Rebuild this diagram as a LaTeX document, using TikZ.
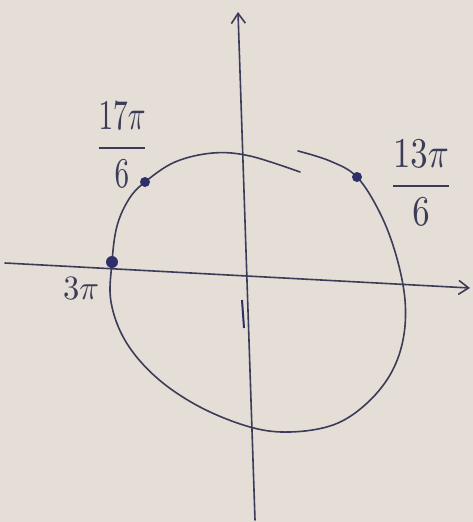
\documentclass[tikz,border=0pt]{standalone}
\usepackage{amsmath}
\usepackage{graphicx}
\usetikzlibrary{arrows.meta}
\definecolor{paper}{HTML}{E4DED6}
\definecolor{pen}{HTML}{3C3C58}
\definecolor{ink}{HTML}{2E2E6A}
\newcommand{\bigtext}[3]{\resizebox{#1}{#2}{#3}}
\tikzset{
  pencurve/.style={draw=pen, line width=1.6pt, line cap=round, line join=round},
  axisline/.style={draw=pen, line width=1.6pt, line cap=round, -{Straight Barb[length=10pt,width=14pt]}},
  dotmark/.style={circle, fill=ink, inner sep=0pt, minimum size=10pt},
  lbl/.style={text=pen, inner sep=0pt}
}
\begin{document}
\begin{tikzpicture}[x=1pt,y=-1pt]
  \fill[paper] (0,0) rectangle (473,522);
  \useasboundingbox (0,0) rectangle (473,522);
  % axes
  \coordinate (xs) at (5,263);
  \coordinate (xe) at (470,288);
  \coordinate (ys) at (255,520);
  \coordinate (ye) at (238,12);
  \draw[axisline] (xs) -- (xe);
  \draw[axisline] (ys) -- (ye);
  % small tick on the vertical axis
  \coordinate (ta) at (242,300);
  \coordinate (tb) at (244,328);
  \draw[draw=ink, line width=2pt] (ta) -- (tb);
  % hand-drawn circle
  \draw[pencurve] plot[smooth, tension=0.6] coordinates {
    (298,151) (330,161) (357,177) (380,213) (396,255) (405,300) (403,340)
    (390,375) (365,405) (333,425) (290,432) (250,427) (200,407) (157,378)
    (126,342) (111,302) (112,262) (117,226) (129,199) (145,182) (175,162)
    (213,153) (250,156) (300,172)};
  % points
  \node[dotmark] (p17) at (145,182) {};
  \node[dotmark] (p13) at (357,177) {};
  \node[dotmark, minimum size=12pt] (p3) at (112,262) {};
  % labels
  \node[lbl] (l17) at (122,145) {\bigtext{54pt}{56pt}{$\dfrac{17\pi}{6}$}};
  \node[lbl] (l13) at (421,183) {\bigtext{64pt}{56pt}{$\dfrac{13\pi}{6}$}};
  \node[lbl] (l3) at (81,288) {\bigtext{36pt}{22pt}{$3\pi$}};
\end{tikzpicture}
\end{document}
